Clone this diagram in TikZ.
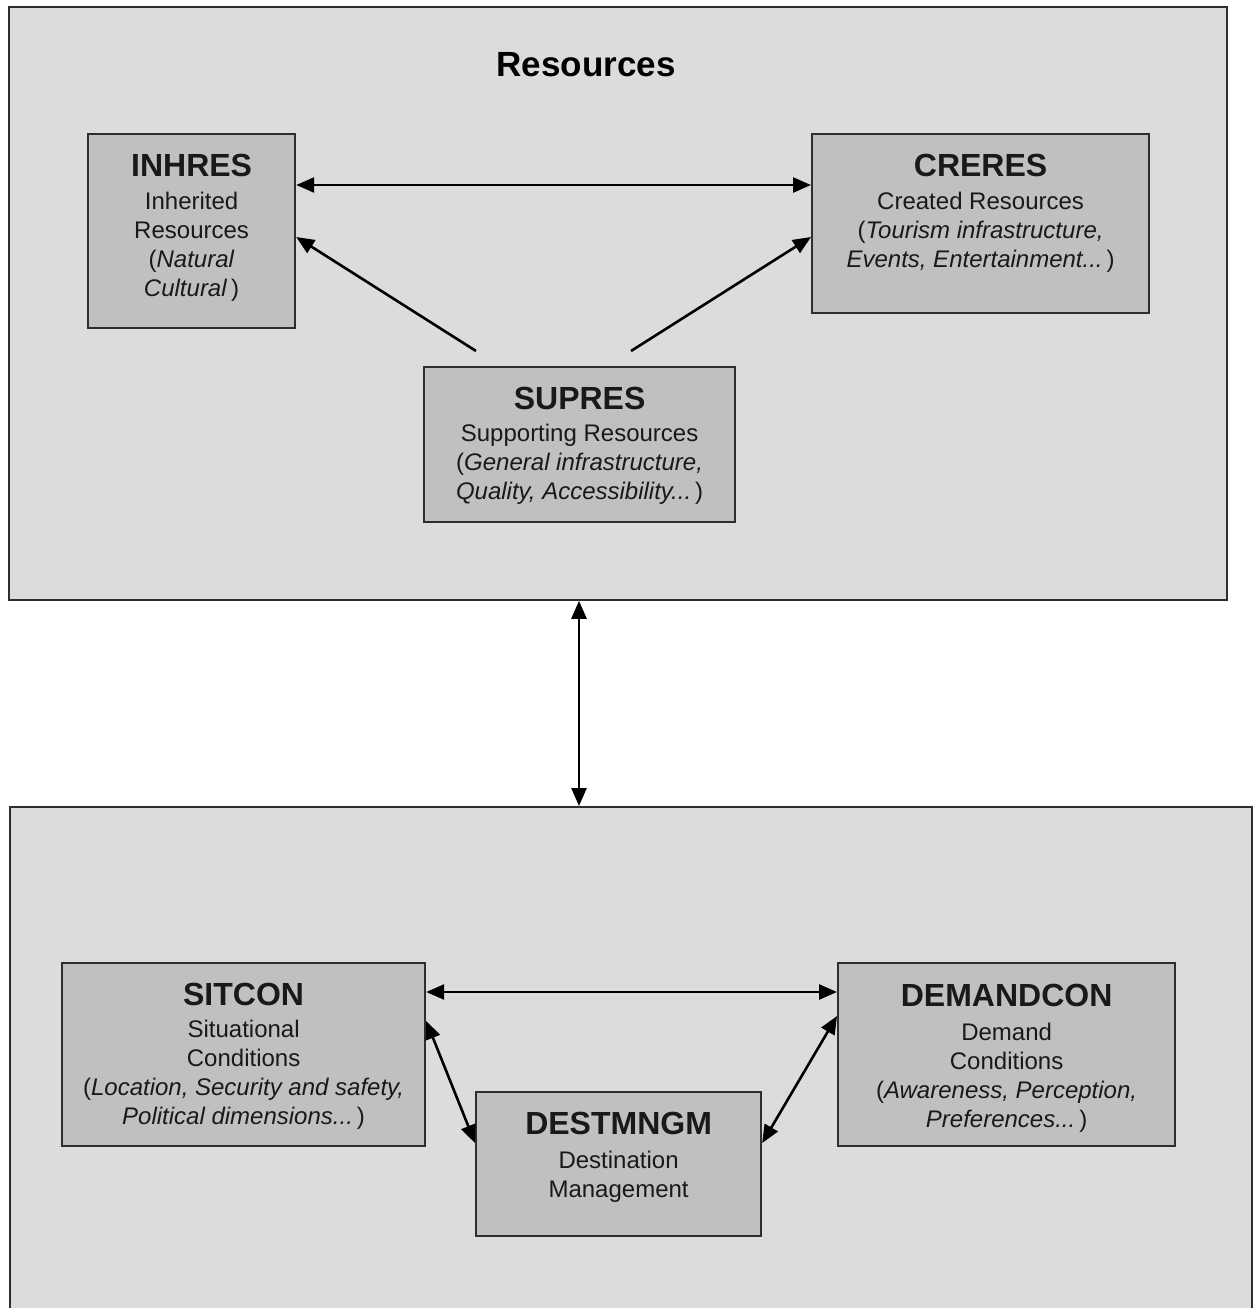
\documentclass[tikz,border=0pt]{standalone}
\usepackage{fontspec}
\setmainfont{Liberation Sans}
\usetikzlibrary{arrows.meta,calc}
\definecolor{panelgray}{HTML}{DCDCDC}
\definecolor{boxgray}{HTML}{C0C0C0}
\definecolor{edgegray}{HTML}{2E2E2E}
\newcommand\boxhead[1]{{\fontsize{32}{35}\selectfont\bfseries #1}}
\begin{document}
\begin{tikzpicture}[x=1pt,y=-1pt,
  panel/.style={draw=edgegray, line width=1.8pt, fill=panelgray, anchor=north west, inner sep=0pt},
  box/.style={draw=edgegray, line width=2.2pt, fill=boxgray, anchor=north west, inner sep=0pt},
  boxtext/.style={anchor=north, align=center, inner sep=0pt, text=black!90, font=\fontsize{24}{29}\selectfont},
  tip/.tip={Triangle[length=18pt,width=15pt]},
  link/.style={line width=2.6pt, tip-tip},
  oneway/.style={line width=2.6pt, -tip}
]
\useasboundingbox (0,0) rectangle (1259,1308);
\clip (0,0) rectangle (1259,1308);

% panels
\node[panel, minimum width=1218pt, minimum height=593pt] (top) at (8,6) {};
\node[panel, minimum width=1242pt, minimum height=540pt] (bot) at (9,806) {};
\node[anchor=base, inner sep=0pt, font=\fontsize{35}{40}\selectfont\bfseries] (title) at (586,77) {Resources};

% resource boxes
\node[box, minimum width=207pt, minimum height=194pt] (inh) at (87,133) {};
\node[box, minimum width=337pt, minimum height=179pt] (cre) at (811,133) {};
\node[box, minimum width=311pt, minimum height=155pt] (sup) at (423,366) {};

\node[boxtext] (inhtxt) at ([yshift=-21pt]inh.north) {\boxhead{INHRES}\\[4pt]Inherited\\Resources\\(\textit{Natural}\\\textit{Cultural}\,)};
\node[boxtext] (cretxt) at ([yshift=-21pt]cre.north) {\boxhead{CRERES}\\[4pt]Created Resources\\(\textit{Tourism infrastructure,}\\\textit{Events, Entertainment...}\,)};
\node[boxtext] (suptxt) at ([yshift=-21pt]sup.north) {\boxhead{SUPRES}\\[3pt]Supporting Resources\\(\textit{General infrastructure,}\\\textit{Quality, Accessibility...}\,)};

% condition boxes
\node[box, minimum width=363pt, minimum height=183pt] (sit) at (61,962) {};
\node[box, minimum width=285pt, minimum height=144pt] (des) at (475,1091) {};
\node[box, minimum width=337pt, minimum height=183pt] (dem) at (837,962) {};

\node[boxtext] (sittxt) at ([yshift=-21pt]sit.north) {\boxhead{SITCON}\\[3pt]Situational\\Conditions\\(\textit{Location, Security and safety,}\\\textit{Political dimensions...}\,)};
\node[boxtext] (destxt) at ([yshift=-21pt]des.north) {\boxhead{DESTMNGM}\\[5pt]Destination\\Management};
\node[boxtext] (demtxt) at ([yshift=-22pt]dem.north) {\boxhead{DEMANDCON}\\[5pt]Demand\\Conditions\\(\textit{Awareness, Perception,}\\\textit{Preferences...}\,)};

% reference coordinates for connector heights
\coordinate (ra) at (0,185);
\coordinate (rb) at (0,237);
\coordinate (s1) at (476,351);
\coordinate (s2) at (631,351);
\coordinate (vx) at (579,0);
\coordinate (rc) at (0,992);
\coordinate (rd) at (0,1021);
\coordinate (re) at (0,1016);
\coordinate (rf) at (0,1143);

% connectors
\draw[link] (inh.east |- ra) -- (cre.west |- ra);
\draw[oneway] (s1) -- (inh.east |- rb);
\draw[oneway] (s2) -- (cre.west |- rb);
\draw[link] (top.south -| vx) -- (bot.north -| vx);
\draw[link] (sit.east |- rc) -- (dem.west |- rc);
\draw[link] (sit.east |- rd) -- (des.west |- rf);
\draw[link] (dem.west |- re) -- (des.east |- rf);
\end{tikzpicture}
\end{document}
